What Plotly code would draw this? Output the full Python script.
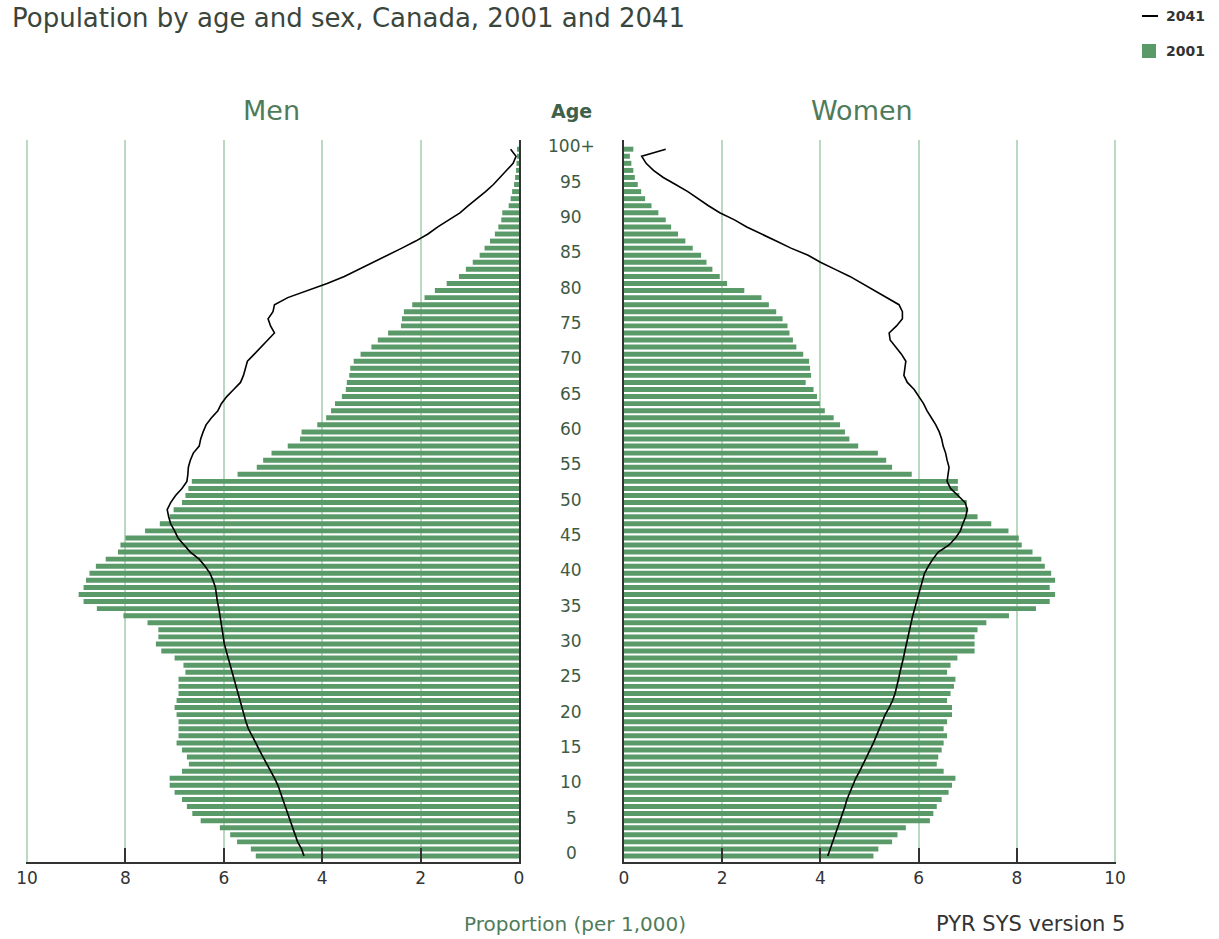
import plotly.graph_objects as go

W, H = 1219, 939

ages = list(range(101))

men_2001 = [5.35, 5.45, 5.73, 5.87, 6.08, 6.47, 6.64, 6.75, 6.85, 7.0,
            7.1, 7.1, 6.85, 6.71, 6.75, 6.85, 6.96, 6.92, 6.92, 6.92,
            6.96, 7.0, 6.96, 6.92, 6.92, 6.92, 6.78, 6.82, 7.0, 7.27,
            7.38, 7.33, 7.33, 7.55, 8.04, 8.58, 8.85, 8.95, 8.85, 8.8,
            8.73, 8.6, 8.4, 8.15, 8.1, 8.0, 7.6, 7.3, 7.1, 7.02,
            6.85, 6.78, 6.72, 6.65, 5.72, 5.33, 5.2, 5.03, 4.7, 4.45,
            4.42, 4.1, 3.92, 3.82, 3.74, 3.6, 3.52, 3.5, 3.45, 3.43,
            3.36, 3.22, 3.0, 2.87, 2.66, 2.4, 2.38, 2.34, 2.17, 1.92,
            1.71, 1.47, 1.22, 1.08, 0.94, 0.8, 0.7, 0.59, 0.49, 0.42,
            0.36, 0.34, 0.21, 0.17, 0.14, 0.1, 0.08, 0.06, 0.05, 0.04,
            0.04]

women_2001 = [5.08, 5.18, 5.46, 5.57, 5.74, 6.23, 6.3, 6.37, 6.47, 6.61,
              6.68, 6.75, 6.51, 6.37, 6.4, 6.47, 6.51, 6.58, 6.51, 6.58,
              6.68, 6.68, 6.58, 6.65, 6.72, 6.75, 6.58, 6.65, 6.79, 7.14,
              7.14, 7.14, 7.2, 7.38, 7.84, 8.39, 8.67, 8.78, 8.67, 8.78,
              8.7, 8.57, 8.5, 8.32, 8.1, 8.04, 7.83, 7.48, 7.2, 7.01,
              6.98, 6.83, 6.8, 6.8, 5.86, 5.46, 5.34, 5.17, 4.77, 4.59,
              4.5, 4.4, 4.27, 4.09, 3.99, 3.93, 3.86, 3.7, 3.81, 3.79,
              3.77, 3.65, 3.51, 3.44, 3.37, 3.33, 3.23, 3.1, 2.95, 2.8,
              2.45, 2.1, 1.95, 1.8, 1.68, 1.57, 1.4, 1.25, 1.1, 0.96,
              0.85, 0.7, 0.56, 0.43, 0.35, 0.28, 0.22, 0.19, 0.15, 0.12,
              0.19]

men_2041 = [4.37, 4.42, 4.5, 4.55, 4.6, 4.65, 4.7, 4.75, 4.8, 4.85,
            4.9, 4.97, 5.05, 5.13, 5.2, 5.28, 5.35, 5.43, 5.5, 5.55,
            5.59, 5.63, 5.67, 5.72, 5.76, 5.8, 5.84, 5.88, 5.92, 5.96,
            5.99, 6.01, 6.03, 6.05, 6.07, 6.1, 6.13, 6.15, 6.17, 6.22,
            6.28, 6.38, 6.5, 6.68, 6.8, 6.93, 7.0, 7.08, 7.12, 7.15,
            7.08, 6.98, 6.85, 6.75, 6.73, 6.72, 6.68, 6.62, 6.5, 6.47,
            6.42, 6.36, 6.25, 6.12, 6.05, 5.94, 5.8, 5.66, 5.6, 5.56,
            5.52, 5.38, 5.24, 5.1, 4.97, 5.05, 5.1, 5.0, 4.97, 4.7,
            4.3, 3.9, 3.55, 3.25, 2.95, 2.65, 2.38, 2.1, 1.85, 1.65,
            1.42, 1.2, 1.03, 0.85, 0.68, 0.52, 0.38, 0.25, 0.12, 0.06,
            0.17]

women_2041 = [4.15, 4.2, 4.25, 4.3, 4.36, 4.4, 4.45, 4.5, 4.54, 4.6,
              4.66, 4.72, 4.8, 4.87, 4.95, 5.02, 5.08, 5.14, 5.2, 5.27,
              5.32, 5.4, 5.47, 5.52, 5.56, 5.59, 5.62, 5.66, 5.69, 5.72,
              5.75, 5.78, 5.81, 5.84, 5.88, 5.92, 5.96, 6.0, 6.04, 6.08,
              6.12, 6.2, 6.29, 6.4, 6.62, 6.75, 6.85, 6.9, 6.96, 6.99,
              6.95, 6.8, 6.65, 6.58, 6.6, 6.62, 6.58, 6.55, 6.5, 6.47,
              6.42, 6.35, 6.26, 6.17, 6.1, 6.0, 5.91, 5.77, 5.7, 5.72,
              5.74, 5.65, 5.53, 5.42, 5.4, 5.55, 5.67, 5.67, 5.6, 5.35,
              5.1, 4.85, 4.6, 4.3, 4.0, 3.75, 3.4, 3.1, 2.8, 2.5,
              2.25, 1.95, 1.72, 1.5, 1.3, 1.05, 0.8, 0.6, 0.45, 0.36,
              0.85]

x_tick_vals = [0, 2, 4, 6, 8, 10]
x_tick_text = ["0", "2", "4", "6", "8", "10"]
age_label_vals = list(range(0, 101, 5))
age_label_text = [str(a) for a in range(0, 100, 5)] + ["100+"]

GREEN = "#5a9a68"
GRID = "#b9d9c0"
DARK = "#333333"
FONT = "DejaVu Sans, Verdana, sans-serif"


def px(x):
    return x / W


def py(y):
    return 1 - y / H


y_dom = [py(862), py(140)]
y_range = [-0.85, 101.3]

fig = go.Figure()
fig.add_trace(go.Bar(x=men_2001, y=ages, orientation="h", name="2001",
                     marker=dict(color=GREEN, line=dict(width=0)),
                     xaxis="x", yaxis="y", showlegend=False))
fig.add_trace(go.Scatter(x=men_2041, y=ages, mode="lines", name="2041",
                         line=dict(color="black", width=1.6),
                         xaxis="x", yaxis="y", showlegend=False))
fig.add_trace(go.Bar(x=women_2001, y=ages, orientation="h", name="2001",
                     marker=dict(color=GREEN, line=dict(width=0)),
                     xaxis="x2", yaxis="y2", showlegend=False))
fig.add_trace(go.Scatter(x=women_2041, y=ages, mode="lines", name="2041",
                         line=dict(color="black", width=1.6),
                         xaxis="x2", yaxis="y2", showlegend=False))

xcommon = dict(tickvals=x_tick_vals, ticktext=x_tick_text,
               showgrid=True, gridcolor=GRID, gridwidth=2,
               zeroline=False, showline=True, linecolor=DARK, linewidth=2,
               ticks="inside", ticklen=14, tickwidth=2, tickcolor=DARK,
               tickfont=dict(family=FONT, size=17, color=DARK),
               fixedrange=True)
ycommon = dict(domain=y_dom, range=y_range, showgrid=False, zeroline=False,
               showticklabels=False, showline=True, linecolor=DARK,
               linewidth=2, ticks="", fixedrange=True)

fig.update_layout(
    width=W, height=H,
    margin=dict(l=0, r=0, t=0, b=0, autoexpand=False),
    paper_bgcolor="white", plot_bgcolor="white",
    bargap=0.3,
    xaxis=dict(domain=[px(26), px(519)], range=[10.02, 0], anchor="y", **xcommon),
    xaxis2=dict(domain=[px(624), px(1116)], range=[0, 10.02], anchor="y2", **xcommon),
    yaxis=dict(anchor="x", side="right", **ycommon),
    yaxis2=dict(anchor="x2", side="left", **ycommon),
)

ann = []
ann.append(dict(text="Population by age and sex, Canada, 2001 and 2041",
                x=px(10), y=py(18), xref="paper", yref="paper",
                xanchor="left", yanchor="middle", showarrow=False,
                font=dict(family=FONT, size=26, color="#3a463c")))
ann.append(dict(text="Men", x=px(271), y=py(110), xref="paper", yref="paper",
                xanchor="center", yanchor="middle", showarrow=False,
                font=dict(family=FONT, size=27, color="#4f7b5a")))
ann.append(dict(text="Women", x=px(862), y=py(110), xref="paper", yref="paper",
                xanchor="center", yanchor="middle", showarrow=False,
                font=dict(family=FONT, size=27, color="#4f7b5a")))
ann.append(dict(text="<b>Age</b>", x=px(571), y=py(111), xref="paper", yref="paper",
                xanchor="center", yanchor="middle", showarrow=False,
                font=dict(family=FONT, size=19, color="#3e6149")))
for v, t in zip(age_label_vals, age_label_text):
    ann.append(dict(text=t, x=px(571), y=v, xref="paper", yref="y",
                    xanchor="center", yanchor="middle", yshift=3,
                    showarrow=False,
                    font=dict(family=FONT, size=17, color="#3e5a45")))
ann.append(dict(text="Proportion (per 1,000)", x=px(575), y=py(924),
                xref="paper", yref="paper", xanchor="center", yanchor="middle",
                showarrow=False, font=dict(family=FONT, size=20, color="#4f7b5a")))
ann.append(dict(text="PYR SYS version 5", x=px(1127), y=py(924),
                xref="paper", yref="paper", xanchor="right", yanchor="middle",
                showarrow=False, font=dict(family=FONT, size=21, color=DARK)))
ann.append(dict(text="<b>2041</b>", x=px(1164), y=py(16), xref="paper", yref="paper",
                xanchor="left", yanchor="middle", showarrow=False,
                font=dict(family=FONT, size=14, color=DARK)))
ann.append(dict(text="<b>2001</b>", x=px(1164), y=py(51), xref="paper", yref="paper",
                xanchor="left", yanchor="middle", showarrow=False,
                font=dict(family=FONT, size=14, color=DARK)))

shapes = [
    dict(type="line", xref="paper", yref="paper", x0=px(1142), x1=px(1158),
         y0=py(16), y1=py(16), line=dict(color="black", width=2)),
    dict(type="rect", xref="paper", yref="paper", x0=px(1142), x1=px(1156),
         y0=py(58), y1=py(44), fillcolor=GREEN, line=dict(width=0)),
]
# outer gridlines at 10 on both panels
for xr in ("x", "x2"):
    shapes.append(dict(type="line", xref=xr, yref="paper", x0=10, x1=10,
                       y0=y_dom[0], y1=y_dom[1], layer="below",
                       line=dict(color=GRID, width=2)))

fig.update_layout(annotations=ann, shapes=shapes)

fig.write_html("out.html",
               config={"displayModeBar": False, "staticPlot": True},
               post_script="document.body.style.margin='0';document.body.style.overflow='hidden';")
